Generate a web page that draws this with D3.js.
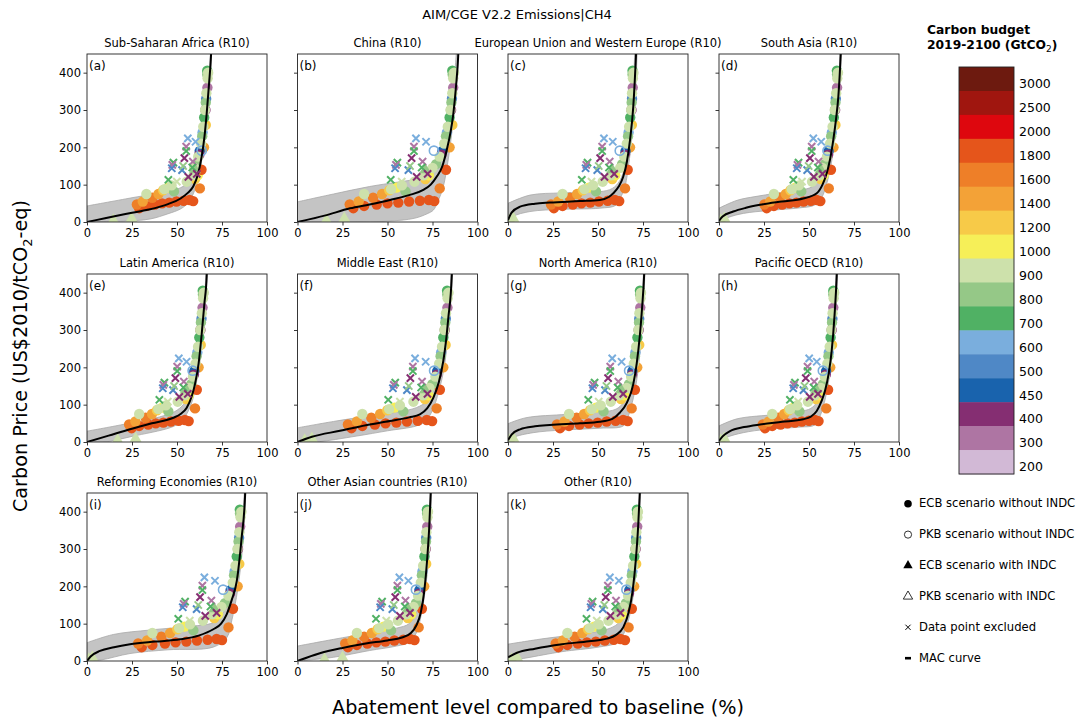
<!DOCTYPE html>
<html><head><meta charset="utf-8">
<script src="https://cdn.jsdelivr.net/npm/d3@7"></script>
<style>body{margin:0;background:#fff}text{font-family:"DejaVu Sans",sans-serif;fill:#000}</style>
</head><body><svg id="c" width="1089" height="722"></svg>
<script>
// ---------- data ----------
const regionTitles = ["Sub-Saharan Africa (R10)","China (R10)","European Union and Western Europe (R10)","South Asia (R10)",
  "Latin America (R10)","Middle East (R10)","North America (R10)","Pacific OECD (R10)",
  "Reforming Economies (R10)","Other Asian countries (R10)","Other (R10)"];
const panelLetters = ["(a)","(b)","(c)","(d)","(e)","(f)","(g)","(h)","(i)","(j)","(k)"];
const xTicks = [0,25,50,75,100];
const yTicks = [0,100,200,300,400];
const budgetLabels = [3000,2500,2000,1800,1600,1400,1200,1000,900,800,700,600,500,450,400,300,200];
const budgetColors = ["#6d1a0f","#a0160f","#de070e","#e5551b","#ee7f28","#f3a237","#f7ca48","#f6ef58",
  "#cde1ab","#95c887","#50b164","#7aaedd","#4f88c6","#1963ad","#852e72","#ae75a3","#d2b9d6"];
const legendLabels = ["ECB scenario without INDC","PKB scenario without INDC","ECB scenario with INDC","PKB scenario with INDC","Data point excluded","MAC curve"];

// carbon price of each scenario point (shared by all regions), its budget and marker
const price = [37,43,47,50,52,55,57,59,56, 47,55,65,75,85,92,115,125, 90,140,200,260, 190,240,330, 180,300,360, 280,405,
  82,155,230,320,395, 75,88,98,108,125,145,175,210,255,300,345,385,400, 191, 5,10,140,
  224,215,202,190,171,159,153,144,139,162,146,121,113,108,129,150];
const budget = [1800,1800,1800,1800,1800,1800,1800,1800,1800, 1600,1400,1600,1400,1200,1000,1200,1000, 1600,1800,1400,1200,
  450,600,500, 400,400,300, 700,700, 800,800,800,800,800, 900,900,900,900,900,900,900,900,900,900,900,900,900, 600, 900,900,800,
  600,600,300,700,400,700,300,500,500,300,700,400,700,900,400,800];
const markerCodes = ("ooooooooo"+"oooooooo"+"oooo"+"ooo"+"ooo"+"oo"+"ooooo"+"oooooo"+"ooooooo"+"O"+"^^^"+"xxxxxxxx"+"xxxxxxxx").split("");

// abatement (%) of each point, per region
const abateA = [29,33,37.7,41.7,45.7,49.7,53.7,57,59, 27.7,31,36.3,39.7,42.3,45,60,61.5, 62.7,63.6,65,66, 62.6,64.2,66.2, 62.4,65.8,66.9, 65.1,66.8, 48.3,60.6,64,66,66.8, 33,43,47,55.4,59.2,59.5,61.8,63.4,64.6,65.6,66.3,67,67.3, 63.7, 14.6,24.8,60, 56,60.3,55.1,55.1,54.1,48,47.4,47.1,52.8,58.8,58.5,56.3,45.2,49.9,61,53.4];
const abateB = [31,37,44,50,56,62,68,73,76, 29,34,42,47,51,55,71,73, 79,82.5,84.5,86, 80.5,83,85.8, 80,85.3,86.5, 84.5,86, 60,77,82.5,85.5,86.2, 37,52,58,65,70,75,79,81.5,83.5,85,86,86.5,87, 75.8, 16,26,71, 65.8,71.4,64.7,64.7,63.4,55.5,54.7,54.2,61.6,69.5,69,66.2,51.8,57.9,72.3,62.5];
const abateC = [25.5,30.3,36,40.8,45.7,50.5,55.4,59.4,61.8, 23.9,27.9,34.4,38.4,41.6,44.9,57.9,59.6, 65,66.5,67.8,68.8, 65.3,67,68.9, 65,68.6,69.3, 67.9,69.2, 48.9,63.4,66.7,68.7,69.2, 30.3,42.5,47.3,52.6,57,62.3,64.6,66,67.3,68.4,68.9,69.4,69.7, 62.1, 1,3,57.9, 53.3,58.2,52.3,52.3,51.2,44.2,43.5,43.1,49.6,56.5,56.1,53.6,41,46.4,59,50.4];
const abateD = [26.5,30.5,35.1,39.1,43,47,51,54.3,56.3, 25.2,28.5,33.8,37.1,39.7,42.4,56.5,58.1, 61,62.2,63.6,64.7, 60.9,62.7,64.9, 60.6,64.5,65.6, 63.8,65.5, 45.7,58.7,62.3,64.7,65.6, 30.5,40.4,44.4,51.7,55.7,57.5,60,61.7,63.1,64.3,65.1,65.7,66.1, 60.3, 1,3,56.5, 52.4,56.8,51.5,51.5,50.5,44.2,43.6,43.2,49,55.3,54.9,52.7,41.3,46.1,57.5,49.8];
const abateE = [24.8,29,34,38.2,42.4,46.6,50.9,54.4,56.5, 23.4,26.9,32.6,36.1,38.9,41.7,55,56.5, 60,61,62,63.2, 59.6,61.3,63.6, 59.4,63,64.2, 62.4,64.3, 45.2,57.9,60.9,63.3,64.4, 29,39.6,43.8,50.4,54.2,56.7,58.9,60.3,61.7,62.9,63.8,64.5,64.9, 58.7, 17,27,55, 51,55.3,50.1,50.1,49.1,43,42.4,42.1,47.8,53.8,53.5,51.3,40.2,44.9,56,48.4];
const abateF = [30,36,43,48.9,54.9,60.8,66.8,71.8,74.8, 28,33,41,45.9,49.9,53.9,70.8,72.9, 77.3,79.1,81,82.3, 77.6,79.8,82.4, 77.3,81.8,83.3, 81,83.1, 58.8,74.9,79.5,82.1,83.2, 36,50.9,56.9,64.4,69.8,73.3,76.6,78.7,80.3,81.6,82.5,83.4,83.9, 75.9, 4,8,70.8, 65.3,71.2,64.1,64.1,62.7,54.3,53.5,53,60.8,69.2,68.7,65.7,50.4,56.9,72.2,61.8];
const abateG = [28.9,33.9,39.8,44.8,49.8,54.8,59.8,64,66.5, 27.2,31.4,38.1,42.3,45.6,48.9,62.8,64.7, 68.7,70.5,71.8,72.9, 69.1,70.8,72.9, 68.9,72.6,73.5, 71.9,73.3, 53.1,67.2,70.5,72.8,73.4, 33.9,46.5,51.5,57.1,61.8,65.9,68.4,69.9,71.2,72.4,73,73.6,73.9, 67.3, 1,3,62.8, 57.9,63.1,56.8,56.8,55.6,48.1,47.3,46.9,53.9,61.3,60.9,58.2,44.6,50.4,64,54.7];
const abateH = [25.6,29.6,34.2,38.1,42.1,46,50,53.3,55.3, 24.3,27.6,32.9,36.2,38.8,41.4,54,55.5, 59.6,60.6,61.8,62.8, 59.5,61,63, 59.3,62.6,63.5, 62,63.5, 44.7,57.7,60.8,62.8,63.5, 29.6,39.5,43.4,49.4,53.3,56.6,58.8,60.2,61.5,62.4,63.1,63.7,64, 57.7, 1,3,54, 50.1,54.3,49.2,49.2,48.2,42.2,41.6,41.2,46.9,52.9,52.5,50.4,39.4,44,55,47.5];
const abateI = [30.4,36.3,43.3,49.2,55.2,61.1,67,72,75, 28.4,33.4,41.3,46.2,50.2,54.2,70.7,72.7, 78.6,81.1,83.7,84.6, 79.8,82,84.5, 79.4,83.9,85.1, 83.2,84.9, 59.1,76.6,81.7,84.2,85, 36.3,51.2,57.2,64.4,69.6,74.7,78.6,81,82.5,83.6,84.6,85.3,85.8, 75.6, 1,3,70.7, 65.2,71.1,64.1,64.1,62.8,54.5,53.7,53.2,60.9,69.1,68.6,65.7,50.7,57.1,72,61.8];
const abateJ = [28,33,38.8,43.8,48.8,53.8,58.8,62.5,65, 26.5,30.5,37,41.3,44.5,47.8,61.3,63.2, 67.3,69.1,70.4,71.5, 67.7,69.4,71.5, 67.5,71.2,72.1, 70.5,71.9, 52,65.8,69.1,71.4,72, 33,45.4,50.4,55.8,60.4,64.5,67,68.5,69.8,71,71.6,72.2,72.5, 65.8, 15,25,61.3, 56.6,61.6,55.5,55.5,54.3,47,46.3,45.9,52.7,60,59.6,56.9,43.6,49.3,62.5,53.5];
const abateK = [28,33,38.8,43.8,48.8,53.8,58.8,62.5,65, 26.5,30.5,37,41.3,44.5,47.8,61.3,63.2, 67,68.8,70.1,71.2, 67.4,69.1,71.2, 67.2,70.9,71.8, 70.2,71.6, 52,65.5,68.8,71.1,71.7, 33,45.4,50.4,55.8,60.4,64.2,66.7,68.2,69.5,70.7,71.3,71.9,72.2, 65.8, 2,5,61.3, 56.6,61.6,55.5,55.5,54.3,47,46.3,45.9,52.7,60,59.6,56.9,43.6,49.3,62.5,53.5];
const abatement = [abateA,abateB,abateC,abateD,abateE,abateF,abateG,abateH,abateI,abateJ,abateK];

// MAC curves [abatement, price]
const macA = [[0,0],[10,10],[20,20],[33,32],[45,48],[52,63],[56,78],[59,95],[61.5,125],[63.7,175],[65.3,230],[66.5,291],[67.8,370],[68.9,447],[69.1,470]];
const macB = [[0,0],[15,17],[29.2,36.6],[40,47],[51.4,59],[62,72],[69.9,86],[74,100],[77.3,121],[80.5,150],[82.9,193],[85,240],[86.6,291],[88,360],[89.3,447],[89.5,470]];
const macC = [[0,5],[2,25],[6.7,41],[15,49],[23.3,52],[40,56],[51,59],[56,67],[58.5,77],[61.5,95],[64,121],[66,160],[67.8,220],[69.6,309],[71.1,447],[71.3,470]];
const macD = [[0,3],[2,15],[7.9,28],[15,38],[22.8,46],[35,55],[46.8,63],[54.3,77],[57.5,100],[59.8,130],[61.8,170],[63.5,220],[65,275],[66.3,336],[67.6,447],[67.8,470]];
const macE = [[0,0],[12,17],[23.9,34],[36,50],[48,65],[52,75],[55.4,92],[58,120],[60,155],[62,210],[63.7,288],[65.2,370],[66.5,445],[66.7,470]];
const macF = [[0,0],[8,14],[23.6,30],[38,45],[51.4,56],[62,66],[68,74],[72,90],[75.5,119],[78.5,160],[81,217],[82.5,270],[83.8,333],[85.7,445],[85.9,470]];
const macG = [[0,5],[2,20],[6.7,34],[15,42],[23.3,45.5],[40,50],[51,54],[58,62],[62.2,79],[66,105],[69.6,155],[71.5,210],[73.3,288],[74.5,360],[75.6,445],[75.8,470]];
const macH = [[0,3],[2,15],[6.1,29],[14,40],[22.8,47],[35,54],[46.8,61],[51,68],[54.3,83],[57,110],[58.9,137],[61,185],[62.6,244],[64.2,340],[65.4,445],[65.6,470]];
const macI = [[0,0],[2,12],[7.2,27],[15,37],[23.9,45],[38,52],[51.7,58],[62,68],[70.2,85],[74.5,100],[77.6,125],[80.5,165],[83.2,214],[85.9,330],[87.8,442],[88,470]];
const macJ = [[0,0],[12,20],[25,35],[38,47],[50,55],[58,63],[63,75],[66,95],[68.5,130],[70.5,190],[72,270],[73.2,360],[74,450],[74.2,470]];
const macK = [[0,10],[5,22],[15,33],[30,45],[45,53],[55,60],[60,70],[64,90],[67,130],[69.3,190],[71,270],[72.3,360],[73.2,450],[73.4,470]];
const macCurves = [macA,macB,macC,macD,macE,macF,macG,macH,macI,macJ,macK];

// uncertainty band edges [abatement, price]
const bandUpper = [
  [[0,43],[25,65],[50,88],[56,105],[60,140],[63,190],[65.5,260],[67.5,350],[68.7,470]],
  [[0,54],[20,75],[40,95],[60,110],[69,117],[74,135],[78,170],[81,220],[84,290],[86.5,360],[88.5,470]],
  [[0,50],[12.2,72],[30,78],[51,81],[58,90],[62,110],[65,150],[67.3,220],[69,300],[70.5,470]],
  [[0,37],[10,58],[20,68],[32,77],[45,85],[52,95],[56,115],[59,150],[62,210],[64.5,290],[66.5,380],[67.3,470]],
  [[0,29],[20,47],[42.4,70],[50,85],[55,110],[58,150],[61,210],[63,280],[65,370],[66.3,470]],
  [[0,38],[20,55],[40,70],[55,80],[66,92],[72,110],[76,145],[79,195],[82,260],[84,340],[85.5,470]],
  [[0,49],[10,65],[32.6,74],[51,80],[60,88],[64,105],[67.5,140],[70.5,200],[72.5,270],[74.3,360],[75.4,470]],
  [[0,43],[10,62],[32,74],[45,82],[51,90],[55,110],[58,145],[60.5,200],[62.5,270],[64,350],[65.2,470]],
  [[0,49],[14.6,71],[35,83],[55,92],[70.2,103],[75,125],[78,160],[81,210],[84,290],[86.2,370],[87.6,470]],
  [[0,40],[20,58],[40,75],[55,88],[62,100],[66,130],[69,190],[71.5,270],[73,360],[74,470]],
  [[0,45],[20,60],[40,72],[55,85],[61,100],[65,130],[68,190],[70.5,270],[72.3,360],[73.5,470]]
];
const bandLower = [
  [[0,0],[20,2],[35,8],[45,22],[52,35],[56,50],[59,75],[62,120],[64.5,190],[66.8,280],[68.3,380],[69.4,470]],
  [[0,0],[30,0],[50,2],[65,10],[72,22],[75.5,32],[78,55],[81,95],[83.5,160],[85.5,230],[87.5,320],[89.7,470]],
  [[0,0],[3,15],[12.2,28],[30,34],[51,37],[60,45],[63,70],[65,95],[67.5,170],[69.5,260],[71,360],[71.8,470]],
  [[0,0],[5,12],[13.5,23],[28,31],[45,38],[53,45],[57,65],[60,105],[62.5,160],[64.8,240],[66.8,340],[68,470]],
  [[0,0],[10,0],[25,15],[46,38],[51,50],[55,72],[58.5,110],[61,165],[63.5,240],[65.3,330],[66.9,470]],
  [[0,0],[10,0],[33,16],[50,30],[66,43],[71,55],[75,85],[78.5,135],[81.5,200],[83.5,280],[85.2,370],[86.2,470]],
  [[0,0],[3,12],[14,25],[30,32],[51,37],[64,43],[66.5,65],[69,105],[71.5,165],[73.5,250],[75,340],[76.2,470]],
  [[0,0],[4,12],[13.5,25],[26.5,34],[45,40],[53,45],[56,68],[58.5,105],[61,165],[63,245],[64.8,340],[65.9,470]],
  [[0,0],[8,3],[23.9,20],[45,30],[70,37],[77.6,62],[80.5,110],[83,170],[85.3,250],[87,340],[88.4,470]],
  [[0,0],[20,10],[40,28],[55,40],[62,50],[66,75],[69,130],[71.5,210],[73.3,300],[74.5,470]],
  [[0,0],[10,8],[30,25],[50,37],[60,48],[64,70],[67.5,120],[70.3,200],[72.3,300],[73.8,470]]
];

// ---------- drawing ----------
const svg = d3.select("#c");
svg.append("rect").attr("width",1089).attr("height",722).attr("fill","#fff");
const colLeft = [87,297.5,508,719], rowTop = [54,274,493], pw = 180, ph = 168;
const x = d3.scaleLinear().domain([0,100]).range([0,pw]);
const y = d3.scaleLinear().domain([0,450]).range([ph,0]);
const colorOf = d3.scaleOrdinal().domain(budgetLabels).range(budgetColors);
const macLine = d3.line().x(d=>x(d[0])).y(d=>y(d[1])).curve(d3.curveMonotoneX);
const bandLine = d3.line().x(d=>x(d[0])).y(d=>y(d[1])).curve(d3.curveCatmullRom.alpha(0.5));
const crossPath = "M-3.6,-3.6L3.6,3.6M-3.6,3.6L3.6,-3.6";

regionTitles.forEach((title,i)=>{
  const col = i%4, row = Math.floor(i/4);
  const g = svg.append("g").attr("transform",`translate(${colLeft[col]},${rowTop[row]})`);
  const cid = "clip"+i;
  g.append("clipPath").attr("id",cid).append("rect").attr("width",pw).attr("height",ph);
  const inner = g.append("g").attr("clip-path",`url(#${cid})`);
  // band
  const up = bandUpper[i], lo = bandLower[i].slice().reverse();
  const dPath = bandLine(up) + bandLine(lo).replace(/^M/,"L") + "Z";
  inner.append("path").attr("d",dPath).attr("fill","#c4c4c4").attr("stroke","#a8a8a8").attr("stroke-width",0.8);
  // points
  const pts = price.map((p,k)=>({x:abatement[i][k],y:p,c:colorOf(budget[k]),m:markerCodes[k]}));
  pts.filter(d=>d.m==="o").forEach(d=>{
    inner.append("circle").attr("cx",x(d.x)).attr("cy",y(d.y)).attr("r",5.2).attr("fill",d.c);
  });
  pts.filter(d=>d.m==="O").forEach(d=>{
    inner.append("circle").attr("cx",x(d.x)).attr("cy",y(d.y)).attr("r",4.6).attr("fill","none").attr("stroke",d.c).attr("stroke-width",1.6);
  });
  pts.filter(d=>d.m==="^").forEach(d=>{
    inner.append("path").attr("d",d3.symbol(d3.symbolTriangle,60)()).attr("transform",`translate(${x(d.x)},${y(d.y)})`).attr("fill",d.c);
  });
  // MAC curve
  inner.append("path").attr("d",macLine(macCurves[i])).attr("fill","none").attr("stroke","#000").attr("stroke-width",2);
  pts.filter(d=>d.m==="x").forEach(d=>{
    inner.append("path").attr("d",crossPath).attr("transform",`translate(${x(d.x)},${y(d.y)})`).attr("stroke",d.c).attr("stroke-width",2).attr("fill","none");
  });
  // frame
  g.append("rect").attr("width",pw).attr("height",ph).attr("fill","none").attr("stroke","#222").attr("stroke-width",0.9);
  // axes
  const ax = g.append("g").attr("transform",`translate(0,${ph})`).call(d3.axisBottom(x).tickValues(xTicks).tickSize(3.5).tickPadding(3.5).tickFormat(d3.format("d")));
  const ay = g.append("g").call(d3.axisLeft(y).tickValues(yTicks).tickSize(3.5).tickPadding(2.5).tickFormat(col===0?d3.format("d"):()=>""));
  [ax,ay].forEach(a=>{a.select(".domain").remove(); a.selectAll("line").attr("stroke","#222").attr("stroke-width",0.9);
    a.selectAll("text").attr("font-size",11.5).attr("font-family","DejaVu Sans").attr("fill","#111");});
  // titles
  g.append("text").attr("x",pw/2).attr("y",-7).attr("text-anchor","middle").attr("font-size",11.5).text(title);
  g.append("text").attr("x",2).attr("y",16).attr("font-size",12).text(panelLetters[i]);
});

// main title and axis labels
svg.append("text").attr("x",517).attr("y",19).attr("text-anchor","middle").attr("font-size",13).text("AIM/CGE V2.2 Emissions|CH4");
const yl = svg.append("text").attr("transform","translate(27,356) rotate(-90)").attr("text-anchor","middle").attr("font-size",19.2);
yl.append("tspan").text("Carbon Price (US$2010/tCO");
yl.append("tspan").attr("font-size",13).attr("dy",4.5).text("2");
yl.append("tspan").attr("dy",-4.5).text("-eq)");
svg.append("text").attr("x",538).attr("y",714).attr("text-anchor","middle").attr("font-size",19.2).text("Abatement level compared to baseline (%)");

// colorbar
const cbX = 959, cbW = 55, cbTop = 67, cbBot = 474;
const cb = d3.scaleBand().domain(budgetLabels).range([cbTop,cbBot]).padding(0);
budgetLabels.forEach((b,k)=>{
  svg.append("rect").attr("x",cbX).attr("y",cb(b)).attr("width",cbW).attr("height",cb.bandwidth()+0.5).attr("fill",budgetColors[k]);
  svg.append("text").attr("x",cbX+cbW+5).attr("y",cb(b)+cb.bandwidth()/2+9.3).attr("font-size",12.5).text(b);
});
svg.append("rect").attr("x",cbX).attr("y",cbTop).attr("width",cbW).attr("height",cbBot-cbTop).attr("fill","none").attr("stroke","#222").attr("stroke-width",0.9);
svg.append("text").attr("x",927).attr("y",34).attr("font-size",12.3).attr("font-weight","bold").text("Carbon budget");
const t2 = svg.append("text").attr("x",927).attr("y",48.5).attr("font-size",12.3).attr("font-weight","bold");
t2.append("tspan").text("2019-2100 (GtCO");
t2.append("tspan").attr("font-size",9).attr("font-weight","normal").attr("dy",3).text("2");
t2.append("tspan").attr("dy",-3).text(")");

// legend
legendLabels.forEach((lab,k)=>{
  const by = 507.3 + k*30.9, cy = by - 3.6, mx = 908;
  const lg = svg.append("g");
  if(k===0) lg.append("circle").attr("cx",mx).attr("cy",cy).attr("r",3.8).attr("fill","#000");
  if(k===1) lg.append("circle").attr("cx",mx).attr("cy",cy).attr("r",3.6).attr("fill","none").attr("stroke","#000").attr("stroke-width",0.8);
  if(k===2) lg.append("path").attr("d",d3.symbol(d3.symbolTriangle,38)()).attr("transform",`translate(${mx},${cy})`).attr("fill","#000");
  if(k===3) lg.append("path").attr("d",d3.symbol(d3.symbolTriangle,38)()).attr("transform",`translate(${mx},${cy})`).attr("fill","none").attr("stroke","#000").attr("stroke-width",0.8);
  if(k===4) lg.append("path").attr("d","M-2.6,-2.6L2.6,2.6M-2.6,2.6L2.6,-2.6").attr("transform",`translate(${mx},${cy})`).attr("stroke","#000").attr("stroke-width",1);
  if(k===5) lg.append("line").attr("x1",mx-3).attr("x2",mx+3).attr("y1",cy).attr("y2",cy).attr("stroke","#000").attr("stroke-width",2.6);
  lg.append("text").attr("x",919).attr("y",by).attr("font-size",11.6).text(lab);
});
</script></body></html>
